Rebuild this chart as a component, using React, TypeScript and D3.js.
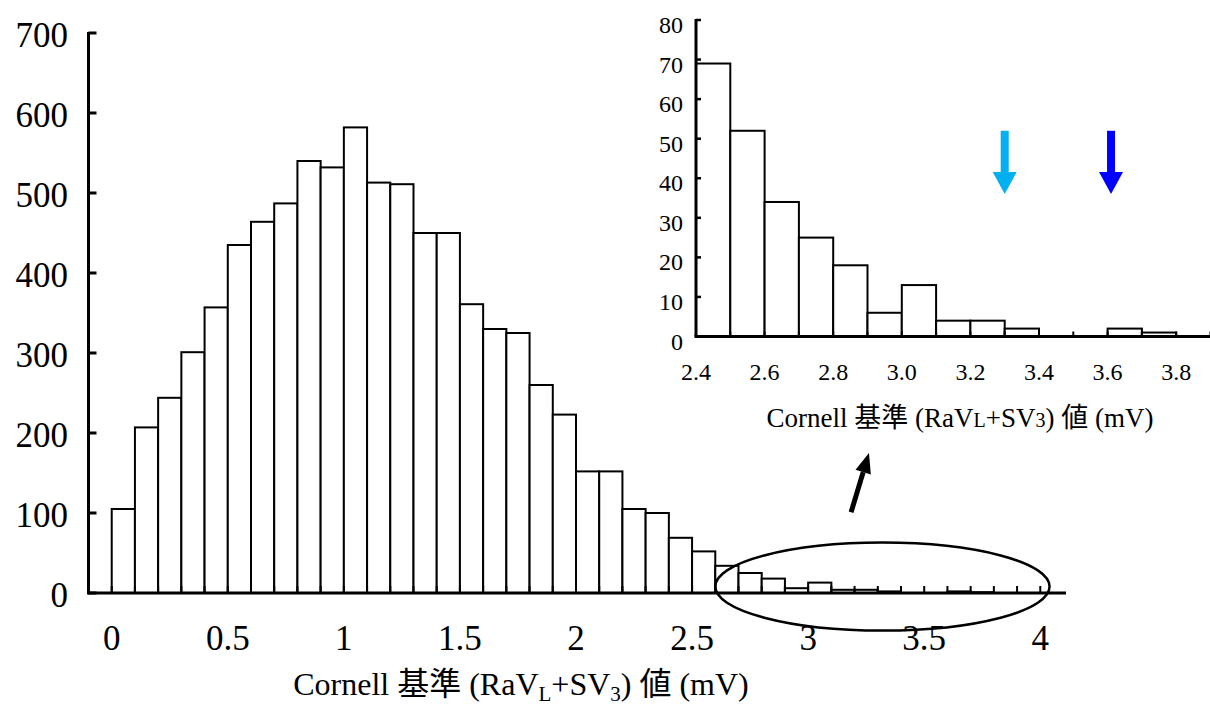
import React from "react";
import * as d3 from "d3";

// ---- Data ----
const mainBinStarts = [
  0.0, 0.1, 0.2, 0.3, 0.4, 0.5, 0.6, 0.7, 0.8, 0.9,
  1.0, 1.1, 1.2, 1.3, 1.4, 1.5, 1.6, 1.7, 1.8, 1.9,
  2.0, 2.1, 2.2, 2.3, 2.4, 2.5, 2.6, 2.7, 2.8, 2.9,
  3.0, 3.1, 3.2, 3.3, 3.4, 3.5, 3.6, 3.7,
];
const mainCounts = [
  105, 207, 244, 301, 357, 435, 464, 487, 540, 532,
  582, 513, 511, 450, 450, 361, 330, 325, 260, 223,
  152, 152, 105, 100, 69, 52, 34, 25, 18, 6,
  13, 4, 4, 2, 0, 0, 2, 1,
];
const binWidth = 0.1;
const mainYTicks = [0, 100, 200, 300, 400, 500, 600, 700];
const mainXTicks = [0, 0.5, 1, 1.5, 2, 2.5, 3, 3.5, 4];
const mainXTickLabels = ["0", "0.5", "1", "1.5", "2", "2.5", "3", "3.5", "4"];
const mainMinorTicks = [
  0.0, 0.1, 0.2, 0.3, 0.4, 0.5, 0.6, 0.7, 0.8, 0.9,
  1.0, 1.1, 1.2, 1.3, 1.4, 1.5, 1.6, 1.7, 1.8, 1.9,
  2.0, 2.1, 2.2, 2.3, 2.4, 2.5, 2.6, 2.7, 2.8, 2.9,
  3.0, 3.1, 3.2, 3.3, 3.4, 3.5, 3.6, 3.7, 3.8, 3.9, 4.0,
];

const insetBinStarts = [2.4, 2.5, 2.6, 2.7, 2.8, 2.9, 3.0, 3.1, 3.2, 3.3, 3.4, 3.5, 3.6, 3.7];
const insetCounts = [69, 52, 34, 25, 18, 6, 13, 4, 4, 2, 0, 0, 2, 1];
const insetYTicks = [0, 10, 20, 30, 40, 50, 60, 70, 80];
const insetXTicks = [2.4, 2.6, 2.8, 3.0, 3.2, 3.4, 3.6, 3.8];
const insetXTickLabels = ["2.4", "2.6", "2.8", "3.0", "3.2", "3.4", "3.6", "3.8"];
const insetMinorTicks = [2.5, 2.6, 2.7, 2.8, 2.9, 3.0, 3.1, 3.2, 3.3, 3.4, 3.5, 3.6, 3.7, 3.8, 3.9];

// arrow markers in the inset (x value, top value, tip value)
const insetArrowX = [3.3, 3.61];
const insetArrowTop = 52;
const insetArrowTip = 36;

// highlight ellipse on main chart (data coordinates)
const ellipseCenter = [3.32, 8];
const ellipseRadii = [0.72, 55];
// pointer arrow on main chart (data coordinates): from -> to
const pointerFrom = [3.185, 101];
const pointerTo = [3.262, 175];

// ---- Styles ----
const FONT = "'Liberation Serif', 'Times New Roman', 'Noto Sans CJK JP', serif";
const arrowColors = ["#00B0F0", "#0000FF"];

export default function App() {
  const W = 1210;
  const H = 707;

  const xMain = d3.scaleLinear().domain([-0.1, 4.1]).range([88.5, 1063.5]);
  const yMain = d3.scaleLinear().domain([0, 700]).range([593, 33]);

  const xIn = d3.scaleLinear().domain([2.4, 3.9]).range([696, 1210.5]);
  const yIn = d3.scaleLinear().domain([0, 80]).range([336.5, 20]);

  // pointer arrow geometry
  const p0 = [xMain(pointerFrom[0]), yMain(pointerFrom[1])];
  const p1 = [xMain(pointerTo[0]), yMain(pointerTo[1])];
  const dx = p1[0] - p0[0];
  const dy = p1[1] - p0[1];
  const len = Math.hypot(dx, dy);
  const ux = dx / len;
  const uy = dy / len;
  const headLen = 20;
  const headHalf = 8;
  const base = [p1[0] - ux * headLen, p1[1] - uy * headLen];
  const headPts = [
    [p1[0], p1[1]],
    [base[0] - uy * headHalf, base[1] + ux * headHalf],
    [base[0] + uy * headHalf, base[1] - ux * headHalf],
  ];

  return (
    <svg
      width={W}
      height={H}
      style={{ position: "absolute", left: 0, top: 0, background: "#fff" }}
      fontFamily={FONT}
    >
      <rect x={0} y={0} width={W} height={H} fill="#fff" />

      {/* ---------- Main chart ---------- */}
      {mainBinStarts.map((b, i) => {
        const v = mainCounts[i];
        if (v <= 0) return null;
        const x0 = xMain(b);
        const x1 = xMain(b + binWidth);
        return (
          <rect
            key={"mb" + i}
            x={x0}
            y={yMain(v)}
            width={x1 - x0}
            height={yMain(0) - yMain(v)}
            fill="#fff"
            stroke="#000"
            strokeWidth={2}
          />
        );
      })}
      {/* x axis minor ticks */}
      {mainMinorTicks.map((t, i) => (
        <line
          key={"mt" + i}
          x1={xMain(t)}
          x2={xMain(t)}
          y1={yMain(0)}
          y2={yMain(0) - 7}
          stroke="#000"
          strokeWidth={2}
        />
      ))}
      {/* axes */}
      <line x1={xMain(-0.1)} x2={1066} y1={yMain(0)} y2={yMain(0)} stroke="#000" strokeWidth={3} />
      <line x1={xMain(-0.1)} x2={xMain(-0.1)} y1={yMain(0) + 1.5} y2={yMain(700) - 1} stroke="#000" strokeWidth={3} />
      {mainYTicks.map((t) => (
        <g key={"my" + t}>
          <line x1={xMain(-0.1)} x2={xMain(-0.1) + 8} y1={yMain(t)} y2={yMain(t)} stroke="#000" strokeWidth={3} />
          <text x={68} y={yMain(t) + 13.5} textAnchor="end" fontSize={35} fill="#000">
            {t}
          </text>
        </g>
      ))}
      {mainXTicks.map((t, i) => (
        <text key={"mx" + i} x={xMain(t)} y={650} textAnchor="middle" fontSize={35} fill="#000">
          {mainXTickLabels[i]}
        </text>
      ))}
      <text x={521} y={695} textAnchor="middle" fontSize={32} fill="#000">
        Cornell 基準 (RaV
        <tspan fontSize={21} dy={6}>L</tspan>
        <tspan dy={-6}>+SV</tspan>
        <tspan fontSize={21} dy={6}>3</tspan>
        <tspan dy={-6}>) 値 (mV)</tspan>
      </text>

      {/* ellipse highlight */}
      <ellipse
        cx={xMain(ellipseCenter[0])}
        cy={yMain(ellipseCenter[1])}
        rx={xMain(ellipseCenter[0] + ellipseRadii[0]) - xMain(ellipseCenter[0])}
        ry={yMain(0) - yMain(ellipseRadii[1])}
        fill="none"
        stroke="#000"
        strokeWidth={2.5}
      />
      {/* pointer arrow */}
      <line x1={p0[0]} y1={p0[1]} x2={base[0]} y2={base[1]} stroke="#000" strokeWidth={5} />
      <polygon points={headPts.map((p) => p.join(",")).join(" ")} fill="#000" />

      {/* ---------- Inset chart ---------- */}
      {insetBinStarts.map((b, i) => {
        const v = insetCounts[i];
        if (v <= 0) return null;
        const x0 = xIn(b);
        const x1 = xIn(b + binWidth);
        return (
          <rect
            key={"ib" + i}
            x={x0}
            y={yIn(v)}
            width={x1 - x0}
            height={yIn(0) - yIn(v)}
            fill="#fff"
            stroke="#000"
            strokeWidth={2}
          />
        );
      })}
      {insetMinorTicks.map((t, i) => (
        <line
          key={"it" + i}
          x1={xIn(t)}
          x2={xIn(t)}
          y1={yIn(0)}
          y2={yIn(0) - 5}
          stroke="#000"
          strokeWidth={2}
        />
      ))}
      <line x1={xIn(2.4) - 1.5} x2={1210} y1={yIn(0)} y2={yIn(0)} stroke="#000" strokeWidth={3} />
      <line x1={xIn(2.4)} x2={xIn(2.4)} y1={yIn(0)} y2={yIn(80) - 1} stroke="#000" strokeWidth={3} />
      {insetYTicks.map((t) => (
        <g key={"iy" + t}>
          <line x1={xIn(2.4)} x2={xIn(2.4) + 5} y1={yIn(t)} y2={yIn(t)} stroke="#000" strokeWidth={2.5} />
          <text x={683} y={yIn(t) + 13} textAnchor="end" fontSize={24} fill="#000">
            {t}
          </text>
        </g>
      ))}
      {insetXTicks.map((t, i) => (
        <text key={"ix" + i} x={xIn(t)} y={380} textAnchor="middle" fontSize={24} fill="#000">
          {insetXTickLabels[i]}
        </text>
      ))}
      <text x={960} y={427} textAnchor="middle" fontSize={27} fill="#000">
        Cornell 基準 (RaV
        <tspan fontSize={20}>L</tspan>
        <tspan>+SV</tspan>
        <tspan fontSize={20}>3</tspan>
        <tspan>) 値 (mV)</tspan>
      </text>

      {/* inset arrows */}
      {insetArrowX.map((ax, i) => {
        const cx = xIn(ax);
        const top = yIn(insetArrowTop);
        const tip = yIn(insetArrowTip);
        const hl = 22;
        const hw = 12;
        return (
          <g key={"ia" + i} fill={arrowColors[i]}>
            <rect x={cx - 4} y={top} width={8} height={tip - hl - top + 1} />
            <polygon points={`${cx - hw},${tip - hl} ${cx + hw},${tip - hl} ${cx},${tip}`} />
          </g>
        );
      })}
    </svg>
  );
}
